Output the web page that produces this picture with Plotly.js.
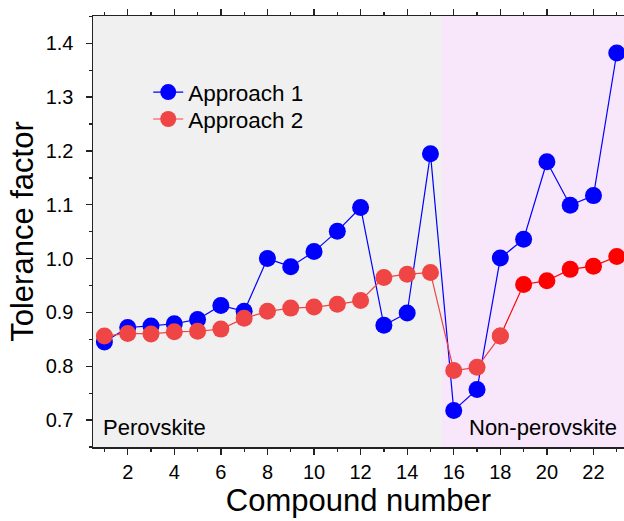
<!DOCTYPE html>
<html>
<head>
<meta charset="utf-8">
<script src="https://cdn.plot.ly/plotly-3.0.1.min.js"></script>
<style>html,body{margin:0;padding:0;background:#fff;}#chart{width:624px;height:521px;}</style>
</head>
<body>
<div id="chart"></div>
<script>
const compounds = [1,2,3,4,5,6,7,8,9,10,11,12,13,14,15,16,17,18,19,20,21,22,23];
const approach1 = [0.845,0.872,0.875,0.879,0.887,0.913,0.902,1.000,0.985,1.013,1.051,1.095,0.876,0.899,1.195,0.718,0.757,1.001,1.036,1.180,1.099,1.117,1.382];
const approach2 = [0.856,0.861,0.860,0.864,0.865,0.869,0.889,0.902,0.908,0.910,0.915,0.922,0.965,0.971,0.974,0.792,0.798,0.856,0.952,0.959,0.980,0.986,1.004];
const seriesNames = ['Approach 1','Approach 2'];
const xTickVals = [2,4,6,8,10,12,14,16,18,20,22];
const yTickVals = [0.7,0.8,0.9,1.0,1.1,1.2,1.3,1.4];
const regionLabels = ['Perovskite','Non-perovskite'];
const boundary = 15.5;
const brightStart = 19; // compounds from here use bright red

const blue = '#0000ff';
const lightRed = '#ef4545';
const brightRed = '#ff0000';
const font = 'Liberation Sans, Arial, sans-serif';

const splitIdx = compounds.indexOf(brightStart) - 1; // include preceding point for line continuity
const red2Colors = compounds.map(c => c >= brightStart ? brightRed : lightRed);

const traces = [
  {x: compounds, y: approach1, name: seriesNames[0], mode: 'lines+markers', legend: 'legend',
   line: {color: blue, width: 1.2}, marker: {color: blue, size: 17}},
  {x: compounds.slice(0, splitIdx + 1), y: approach2.slice(0, splitIdx + 1), name: seriesNames[1], mode: 'lines+markers', legend: 'legend2',
   line: {color: lightRed, width: 1.2}, marker: {color: lightRed, size: 17}},
  {x: compounds.slice(splitIdx), y: approach2.slice(splitIdx), name: seriesNames[1], showlegend: false, mode: 'lines+markers',
   line: {color: brightRed, width: 1.2}, marker: {color: red2Colors.slice(splitIdx), size: 17}}
];

const legendCommon = {xanchor: 'left', yanchor: 'top', bgcolor: 'rgba(0,0,0,0)',
                      font: {size: 22.5, family: font}, itemwidth: 30};

const layout = {
  width: 624, height: 521,
  margin: {l: 93, r: 0, t: 16, b: 74},
  paper_bgcolor: '#ffffff',
  plot_bgcolor: '#f8e7fa',
  font: {family: font, color: '#000'},
  showlegend: true,
  legend: Object.assign({x: 0.104, y: 0.8726}, legendCommon),
  legend2: Object.assign({x: 0.104, y: 0.810}, legendCommon),
  xaxis: {
    range: [0.51, 23.31], tickvals: xTickVals, ticktext: xTickVals.map(String),
    ticks: 'outside', ticklen: 6, tickwidth: 1.3, tickcolor: '#222',
    minor: {dtick: 1, tick0: 1, ticks: 'outside', ticklen: 3, tickwidth: 1.3, tickcolor: '#222'},
    showline: true, linecolor: '#222', linewidth: 1.5, mirror: 'ticks',
    showgrid: false, zeroline: false,
    tickfont: {size: 20, family: font},
    title: {text: 'Compound number', font: {size: 31, family: font}, standoff: 8}
  },
  yaxis: {
    range: [0.65, 1.4507], tickvals: yTickVals, ticktext: yTickVals.map(v => v.toFixed(1)),
    ticks: 'outside', ticklen: 6, tickwidth: 1.3, tickcolor: '#222',
    minor: {dtick: 0.05, tick0: 0.65, ticks: 'outside', ticklen: 3, tickwidth: 1.3, tickcolor: '#222'},
    showline: true, linecolor: '#222', linewidth: 1.5, mirror: false,
    showgrid: false, zeroline: false, ticklabelstandoff: 8,
    tickfont: {size: 20, family: font},
    title: {text: 'Tolerance factor', font: {size: 31, family: font}, standoff: 3}
  },
  shapes: [
    {type: 'rect', layer: 'below', xref: 'x', yref: 'paper', x0: 0.51, x1: boundary, y0: 0, y1: 1,
     fillcolor: '#f0f0f0', line: {width: 0}}
  ],
  annotations: [
    {text: regionLabels[0], xref: 'paper', yref: 'paper', x: 0.016, y: 0.045, xanchor: 'left', yanchor: 'middle',
     showarrow: false, font: {size: 22, family: font, color: '#000'}},
    {text: regionLabels[1], xref: 'paper', yref: 'paper', x: 0.991, y: 0.045, xanchor: 'right', yanchor: 'middle',
     showarrow: false, font: {size: 22, family: font, color: '#000'}}
  ]
};

Plotly.newPlot('chart', traces, layout, {displayModeBar: false, staticPlot: true});
</script>
</body>
</html>
